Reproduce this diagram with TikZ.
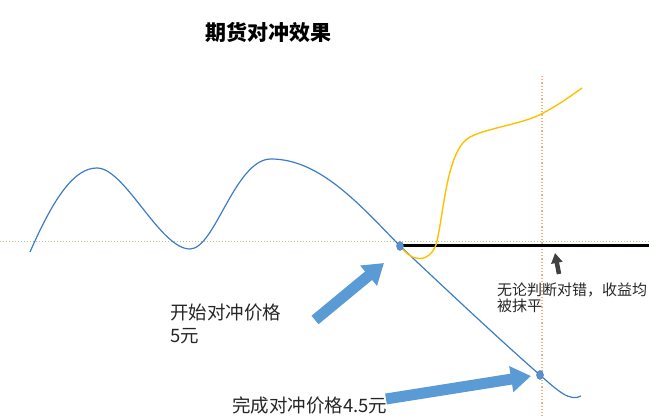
\documentclass[tikz,border=0pt]{standalone}
\usepackage{fontspec}
\setmainfont{Noto Sans CJK SC}
\usetikzlibrary{arrows.meta, positioning, shapes.geometric}

\definecolor{curveblue}{HTML}{3E7CC6}
\definecolor{arrblue}{HTML}{5B9BD5}
\definecolor{futorange}{HTML}{FFC000}
\definecolor{markorange}{HTML}{F4B183}
\definecolor{basegreen}{HTML}{A9C98E}

\begin{document}
\begin{tikzpicture}[
        x=1pt, y=-1pt,
        title/.style={font=\fontsize{21}{24}\selectfont\bfseries, inner sep=0pt},
        lbl/.style={font=\fontsize{18.5}{23}\selectfont, text=black!85, align=left, inner sep=0pt},
        note/.style={font=\fontsize{15}{16}\selectfont, text=black!85, align=left, inner sep=0pt},
        dot/.style={ellipse, fill=curveblue!85, draw=curveblue, minimum width=7pt, minimum height=9pt, inner sep=0pt},
        fatarr/.style={draw=arrblue, line width=11pt, -{Triangle[length=20pt, width=25pt]}},
        smallarr/.style={draw=black!75, line width=4.5pt, -{Triangle[length=10pt, width=11pt]}}
      ]
        \useasboundingbox (0,0) rectangle (649,417);
        \node[title] (title) at (268,32) {期货对冲效果};
        % base line and hedge line
        \draw[basegreen, dotted, line width=1pt] (0,242) -- (649,242);
        \draw[markorange, dotted, line width=1.2pt] (542,76) -- (542,417);
        \coordinate (p0c) at (400,246);
        \coordinate (p1c) at (540,375);
        \draw[black, line width=3pt] (p0c) -- (649,246);
        % spot price
        \draw[curveblue, line width=1.2pt] (30,252)
          .. controls (55,195) and (75,168) .. (97,168)
          .. controls (125,168) and (160,249) .. (190,249)
          .. controls (215,249) and (235,159) .. (271,159)
          .. controls (320,159) and (360,205) .. (p0c)
          .. controls (450,293) and (500,340) .. (p1c)
          .. controls (558,391) and (570,402) .. (581,396);
        % futures
        \draw[futorange, line width=1.4pt] (p0c)
          .. controls (412,262) and (428,264) .. (436,245)
          .. controls (444,215) and (446,150) .. (470,137)
          .. controls (490,127) and (525,124) .. (545,112)
          .. controls (560,104) and (572,95) .. (582,88);
        \node[dot] (p0) at (p0c) {};
        \node[dot] (p1) at (p1c) {};
        % labels
        \node[lbl, anchor=north west] (open) at (170,304) {开始对冲价格\\5元};
        \node[lbl, anchor=west] (close) at (232,405) {完成对冲价格4.5元};
        \node[note, anchor=north west] (flat) at (497,283) {无论判断对错，收益均\\被抹平};
        \coordinate (a1s) at (315,320);
        \coordinate (a1e) at (384,263);
        \coordinate (a2s) at (386,399);
        \coordinate (a2e) at (531,376);
        \coordinate (a3s) at (559,274);
        \coordinate (a3e) at (555,253);
        \draw[fatarr] (a1s) -- (a1e);
        \draw[fatarr] (a2s) -- (a2e);
        \draw[smallarr] (a3s) -- (a3e);
      \end{tikzpicture}
\end{document}
